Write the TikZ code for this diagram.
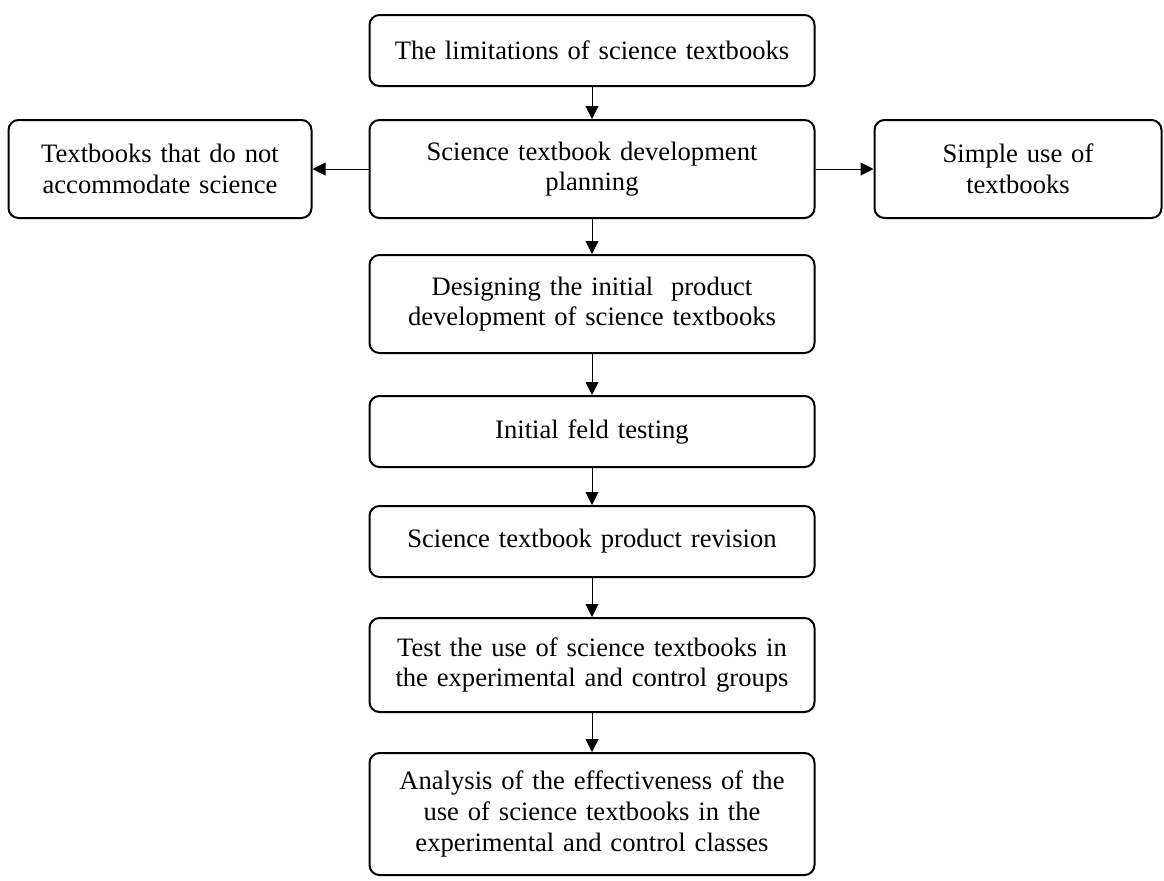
\documentclass[tikz,border=0pt]{standalone}
\usepackage{fontspec}
\setmainfont{Liberation Serif}
\usetikzlibrary{positioning,arrows.meta}

\begin{document}
\begin{tikzpicture}[->,>={Triangle[width=6.5pt,length=6.5pt]},line width=0.5pt,
		node distance=20pt]
		\tikzstyle{stage}=[draw=black,line width=1pt,rounded corners=5pt,align=center,
		font=\fontsize{13.3}{15.3}\selectfont,inner ysep=0pt,text width=200pt,
		inner xsep=11.25pt,minimum height=35.5pt]
		\tikzstyle{side}=[stage,text width=135pt,inner xsep=8.25pt,minimum height=49pt]
		\useasboundingbox (0,0) rectangle (582pt,-440pt);
		
		\node[stage] (s1) at (296pt,-25.25pt) {The limitations of science textbooks};
		\node[stage,minimum height=49pt] (s2) [below=16pt of s1] {Science textbook development\\planning};
		\node[side] (sl) [left=28pt of s2] {Textbooks that do not\\accommodate science};
		\node[side,text width=127pt] (sr) [right=29pt of s2] {Simple use of\\textbooks};
		\node[stage,minimum height=49pt] (s3) [below=17.5pt of s2] {Designing the initial~ product\\development of science textbooks};
		\node[stage] (s4) [below=20.5pt of s3] {Initial feld testing};
		\node[stage] (s5) [below=18.5pt of s4] {Science textbook product revision};
		\node[stage,minimum height=47pt] (s6) [below=19.5pt of s5] {Test the use of science textbooks in\\the experimental and control groups};
		\node[stage,minimum height=61pt] (s7) [below=19.5pt of s6] {Analysis of the effectiveness of the\\use of science textbooks in the\\experimental and control classes};
		
		\path[->]
		(s1) edge (s2);
		\path[->]
		(s2) edge (sl);
		\path[->]
		(s2) edge (sr);
		\path[->]
		(s2) edge (s3);
		\path[->]
		(s3) edge (s4);
		\path[->]
		(s4) edge (s5);
		\path[->]
		(s5) edge (s6);
		\path[->]
		(s6) edge (s7);
		\end{tikzpicture}
\end{document}
